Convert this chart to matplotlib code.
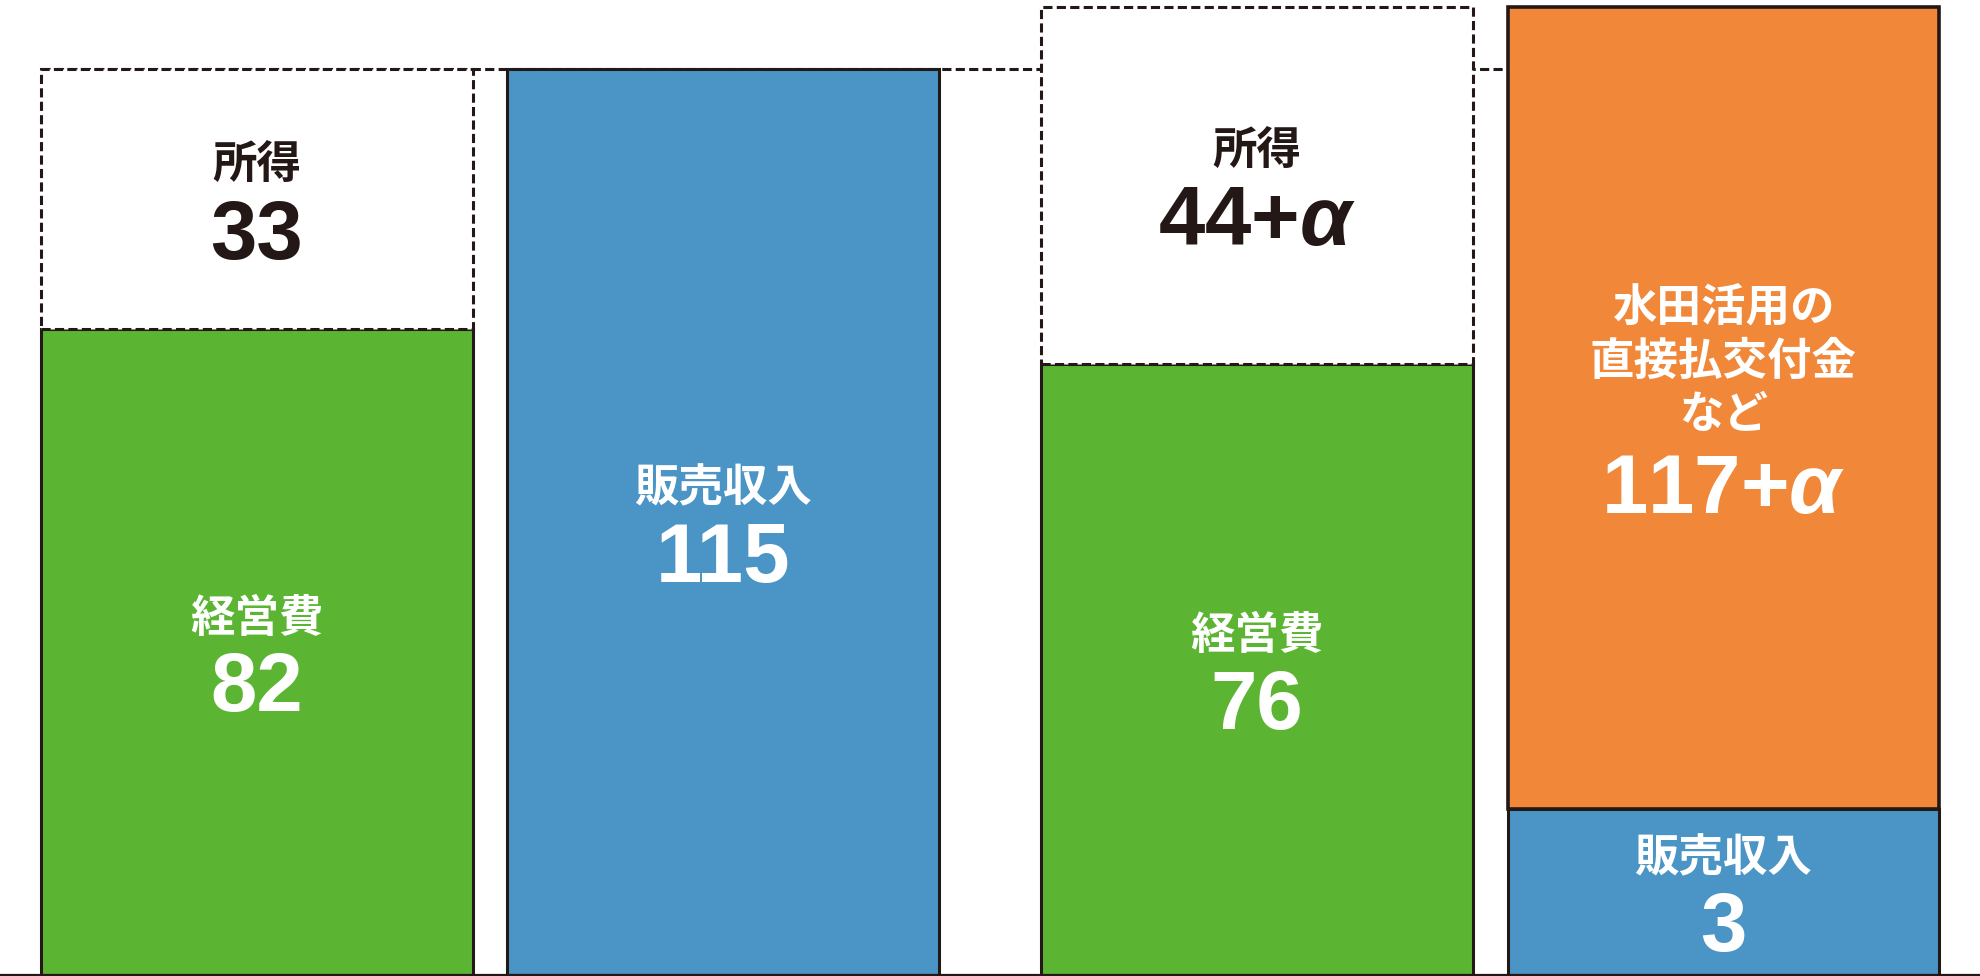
import matplotlib.pyplot as plt

plt.rcParams['mathtext.fontset'] = 'custom'
plt.rcParams['mathtext.rm'] = 'Liberation Sans:bold'
plt.rcParams['mathtext.it'] = 'Liberation Sans:italic:bold'

# Segment heights as drawn (the right pair is not drawn to scale in the original)
keiei_h = [82, 77.6]       # 経営費, bars 1 and 3
shotoku_h = [33, 45.3]     # 所得 (dashed boxes), bars 1 and 3
hanbai_h = [115, 21.1]     # 販売収入, bars 2 and 4
kofu_h = [101.8]           # 交付金など, bar 4

# Printed values
keiei_val = ['82', '76']
shotoku_val = ['33', r'44+$\alpha$']
hanbai_val = ['115', '3']
kofu_val = [r'117+$\alpha$']

keiei_name = '経営費'
shotoku_name = '所得'
hanbai_name = '販売収入'
kofu_name = '水田活用の\n直接払交付金\nなど'

green = '#5bb532'
blue = '#4a94c6'
orange = '#f08739'
ink = '#231815'

x = [0, 1, 2.145, 3.145]
w = 0.925
cost_x = [x[0], x[2]]
rev_x = [x[1], x[3]]

fig = plt.figure(figsize=(19.81, 9.76), dpi=100)
ax = fig.add_axes([0, 0, 1, 1])

lw = 2.2
dash = (0, (3.0, 1.4))

# dashed reference line at the level of the sales bar
ax.hlines(hanbai_h[0], x[0] - w / 2, x[3] - w / 2, colors=ink, lw=lw,
          linestyles=dash, zorder=1)

ax.bar(cost_x, keiei_h, width=w, color=green, edgecolor=ink, lw=lw, zorder=2)
ax.bar(cost_x, shotoku_h, width=w, bottom=keiei_h, color='white',
       edgecolor=ink, lw=lw, linestyle=dash, zorder=3)
ax.bar(rev_x, hanbai_h, width=w, color=blue, edgecolor=ink, lw=lw, zorder=2)
ax.bar([x[3]], kofu_h, width=w, bottom=[hanbai_h[1]], color=orange,
       edgecolor=ink, lw=2.6, zorder=2)

ax.axhline(0, color=ink, lw=1.6, zorder=4)

cjk = ['Noto Sans CJK JP', 'DejaVu Sans']
num = ['Liberation Sans', 'DejaVu Sans']


def label(xc, yc, name, val, color, name_off=24, val_off=-27):
    ax.annotate(name, (xc, yc), xytext=(0, name_off), textcoords='offset points',
                ha='center', va='center', fontsize=32, fontweight='bold',
                family=cjk, color=color, linespacing=1.2, zorder=5)
    ax.annotate(val, (xc, yc), xytext=(0, val_off), textcoords='offset points',
                ha='center', va='center', fontsize=60, fontweight='bold',
                family=num, color=color, zorder=5)


for i, xc in enumerate(cost_x):
    label(xc, keiei_h[i] / 2, keiei_name, keiei_val[i], 'white')
    label(xc, keiei_h[i] + shotoku_h[i] / 2, shotoku_name, shotoku_val[i], ink)
for i, xc in enumerate(rev_x):
    label(xc, hanbai_h[i] / 2, hanbai_name, hanbai_val[i], 'white')
label(x[3], hanbai_h[1] + kofu_h[0] / 2, kofu_name, kofu_val[0], 'white',
      name_off=33, val_off=-60)

ax.set_xlim(x[0] - 0.551, x[3] + 0.553)
ax.set_ylim(-0.127, 123.76)
ax.axis('off')

fig.savefig('out.png', dpi=100)
